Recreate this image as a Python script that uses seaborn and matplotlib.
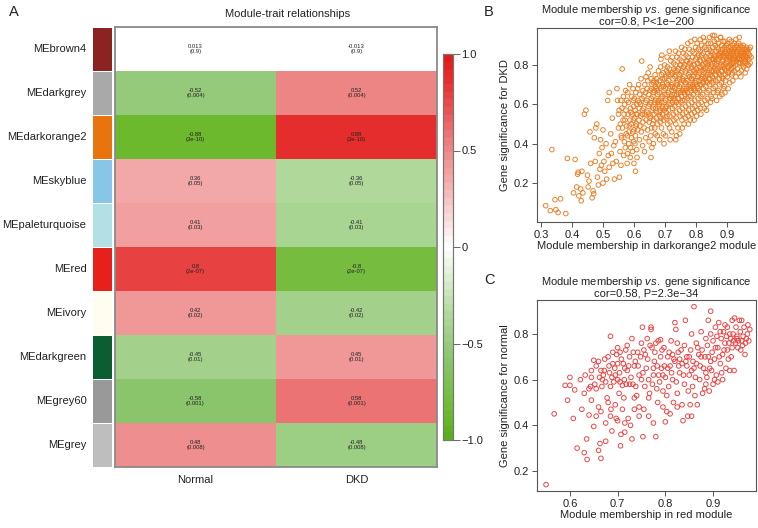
import numpy as np
import pandas as pd
import matplotlib
matplotlib.use("Agg")
import matplotlib.pyplot as plt
import seaborn as sns
from matplotlib.colors import LinearSegmentedColormap, ListedColormap

# ---------- data ----------
modules = ["MEbrown4", "MEdarkgrey", "MEdarkorange2", "MEskyblue", "MEpaleturquoise",
           "MEred", "MEivory", "MEdarkgreen", "MEgrey60", "MEgrey"]
module_colors = ["#8b2323", "#a9a9a9", "#e8740e", "#87c6e6", "#b2e0e4",
                 "#e8201c", "#fffdf0", "#0b5e32", "#999999", "#bebebe"]
traits = ["Normal", "DKD"]
cor_normal = [0.013, -0.52, -0.88, 0.36, 0.41, 0.8, 0.42, -0.45, -0.58, 0.48]
cor_dkd = [-0.013, 0.52, 0.88, -0.36, -0.41, -0.8, -0.42, 0.45, 0.58, -0.48]
pvals = ["0.9", "0.004", "3e-10", "0.05", "0.03", "2e-07", "0.02", "0.01", "0.001", "0.008"]

# panel B: module membership in darkorange2 vs gene significance for DKD
b_points = [
    (0.315, 0.085), (0.33, 0.06), (0.335, 0.37), (0.345, 0.115), (0.348, 0.065), (0.355, 0.05),
    (0.363, 0.12), (0.38, 0.045), (0.385, 0.325), (0.405, 0.15), (0.41, 0.32), (0.415, 0.18),
    (0.418, 0.245), (0.42, 0.255), (0.422, 0.135), (0.428, 0.17), (0.43, 0.11), (0.432, 0.26),
    (0.435, 0.15), (0.44, 0.55), (0.445, 0.57), (0.45, 0.24), (0.452, 0.18), (0.455, 0.21),
    (0.458, 0.46), (0.46, 0.30), (0.465, 0.125), (0.468, 0.16), (0.47, 0.145), (0.472, 0.43),
    (0.475, 0.31), (0.477, 0.48), (0.48, 0.50), (0.482, 0.23), (0.485, 0.19), (0.488, 0.35),
    (0.49, 0.27), (0.492, 0.42), (0.495, 0.29), (0.497, 0.38), (0.50, 0.47), (0.50, 0.20),
    (0.503, 0.31), (0.506, 0.26), (0.51, 0.40), (0.512, 0.22), (0.515, 0.62), (0.517, 0.34),
    (0.52, 0.66), (0.52, 0.28), (0.525, 0.45), (0.527, 0.35), (0.53, 0.53), (0.532, 0.30),
    (0.535, 0.39), (0.537, 0.22), (0.54, 0.41), (0.543, 0.31), (0.545, 0.68), (0.547, 0.62),
    (0.55, 0.48), (0.55, 0.55), (0.553, 0.23), (0.555, 0.36), (0.558, 0.29), (0.56, 0.43),
    (0.562, 0.78), (0.565, 0.52), (0.567, 0.34), (0.57, 0.60), (0.572, 0.38), (0.575, 0.45),
    (0.578, 0.30), (0.58, 0.66), (0.583, 0.40), (0.585, 0.49), (0.588, 0.33), (0.59, 0.56),
    (0.592, 0.43), (0.595, 0.36), (0.598, 0.62), (0.60, 0.47), (0.60, 0.30), (0.603, 0.40),
    (0.605, 0.26), (0.607, 0.55), (0.61, 0.33), (0.612, 0.68),
    (0.552, 0.57), (0.556, 0.50), (0.558, 0.62), (0.559, 0.44),
    (0.561, 0.58), (0.563, 0.48), (0.566, 0.64), (0.568, 0.55), (0.569, 0.41),
    (0.571, 0.52), (0.573, 0.67), (0.574, 0.57), (0.576, 0.49), (0.577, 0.62), (0.579, 0.44), (0.579, 0.35),
    (0.581, 0.55), (0.582, 0.61), (0.584, 0.46), (0.586, 0.70), (0.587, 0.52), (0.589, 0.58), (0.589, 0.38),
    (0.591, 0.50), (0.593, 0.64), (0.594, 0.55), (0.596, 0.46), (0.597, 0.68), (0.598, 0.52), (0.599, 0.41),
    (0.599, 0.59),
    (0.601, 0.63), (0.602, 0.53), (0.604, 0.57), (0.605, 0.44), (0.606, 0.66), (0.608, 0.50), (0.609, 0.60),
    (0.609, 0.37),
    (0.611, 0.55), (0.612, 0.47), (0.613, 0.62), (0.615, 0.70), (0.616, 0.52), (0.617, 0.58), (0.618, 0.42),
    (0.619, 0.65), (0.619, 0.49),
    (0.621, 0.60), (0.622, 0.54), (0.623, 0.73), (0.624, 0.46), (0.626, 0.63), (0.627, 0.57), (0.628, 0.39),
    (0.629, 0.67), (0.629, 0.51), (0.625, 0.82),
    (0.631, 0.58), (0.632, 0.64), (0.633, 0.48), (0.635, 0.70), (0.636, 0.55), (0.637, 0.61), (0.638, 0.43),
    (0.639, 0.74), (0.639, 0.52), (0.634, 0.36),
    (0.641, 0.62), (0.642, 0.56), (0.643, 0.68), (0.644, 0.47), (0.646, 0.76), (0.647, 0.59), (0.648, 0.65),
    (0.649, 0.51), (0.649, 0.41), (0.645, 0.72),
    (0.651, 0.60), (0.652, 0.67), (0.653, 0.54), (0.655, 0.73), (0.656, 0.63), (0.657, 0.48), (0.658, 0.70),
    (0.659, 0.57), (0.654, 0.44), (0.658, 0.38), (0.652, 0.79), (0.655, 0.33),
    (0.661, 0.64), (0.662, 0.58), (0.663, 0.71), (0.664, 0.52), (0.666, 0.67), (0.667, 0.61), (0.668, 0.75),
    (0.669, 0.45), (0.665, 0.55), (0.669, 0.69), (0.663, 0.40),
    (0.671, 0.62), (0.672, 0.68), (0.673, 0.56), (0.674, 0.73), (0.676, 0.50), (0.677, 0.65), (0.678, 0.59),
    (0.679, 0.77), (0.675, 0.44), (0.679, 0.70), (0.672, 0.53),
    (0.681, 0.66), (0.682, 0.60), (0.683, 0.72), (0.684, 0.54), (0.686, 0.79), (0.687, 0.63), (0.688, 0.69),
    (0.689, 0.48), (0.685, 0.57), (0.689, 0.75), (0.683, 0.42), (0.687, 0.83),
    (0.691, 0.64), (0.692, 0.70), (0.693, 0.58), (0.694, 0.76), (0.696, 0.52), (0.697, 0.67), (0.698, 0.61),
    (0.699, 0.73), (0.695, 0.45), (0.699, 0.80), (0.692, 0.55), (0.697, 0.40), (0.69, 0.85),
    (0.701, 0.68), (0.702, 0.62), (0.703, 0.74), (0.704, 0.56), (0.706, 0.71), (0.707, 0.65), (0.708, 0.79),
    (0.709, 0.50), (0.705, 0.59), (0.709, 0.76), (0.702, 0.44), (0.707, 0.84), (0.704, 0.53),
    (0.711, 0.66), (0.712, 0.72), (0.713, 0.60), (0.714, 0.78), (0.716, 0.54), (0.717, 0.69), (0.718, 0.63),
    (0.719, 0.75), (0.715, 0.48), (0.719, 0.82), (0.712, 0.57), (0.717, 0.42), (0.714, 0.87),
    (0.721, 0.70), (0.722, 0.64), (0.723, 0.76), (0.724, 0.58), (0.726, 0.73), (0.727, 0.67), (0.728, 0.81),
    (0.729, 0.52), (0.725, 0.61), (0.729, 0.78), (0.722, 0.46), (0.727, 0.55), (0.724, 0.84),
    (0.731, 0.68), (0.732, 0.74), (0.733, 0.62), (0.734, 0.80), (0.736, 0.56), (0.737, 0.71), (0.738, 0.65),
    (0.739, 0.77), (0.735, 0.50), (0.739, 0.84), (0.732, 0.59), (0.737, 0.44), (0.734, 0.87), (0.736, 0.53),
    (0.735, 0.42),
    (0.741, 0.72), (0.742, 0.66), (0.743, 0.78), (0.744, 0.60), (0.746, 0.75), (0.747, 0.69), (0.748, 0.83),
    (0.749, 0.54), (0.745, 0.63), (0.749, 0.80), (0.742, 0.48), (0.747, 0.57), (0.744, 0.86), (0.748, 0.45),
    (0.751, 0.70), (0.752, 0.76), (0.753, 0.64), (0.754, 0.82), (0.756, 0.58), (0.757, 0.73), (0.758, 0.67),
    (0.759, 0.79), (0.755, 0.52), (0.759, 0.86), (0.752, 0.61), (0.757, 0.55), (0.754, 0.89), (0.756, 0.48),
    (0.761, 0.74), (0.762, 0.68), (0.763, 0.80), (0.764, 0.62), (0.766, 0.77), (0.767, 0.71), (0.768, 0.85),
    (0.769, 0.56), (0.765, 0.65), (0.769, 0.82), (0.762, 0.50), (0.767, 0.59), (0.764, 0.88), (0.766, 0.53),
    (0.771, 0.72), (0.772, 0.78), (0.773, 0.66), (0.774, 0.84), (0.776, 0.60), (0.777, 0.75), (0.778, 0.69),
    (0.779, 0.81), (0.775, 0.54), (0.779, 0.88), (0.772, 0.63), (0.777, 0.57), (0.774, 0.91), (0.776, 0.50),
    (0.781, 0.76), (0.782, 0.70), (0.783, 0.82), (0.784, 0.64), (0.786, 0.79), (0.787, 0.73), (0.788, 0.87),
    (0.789, 0.58), (0.785, 0.67), (0.789, 0.84), (0.782, 0.52), (0.787, 0.61), (0.784, 0.92), (0.786, 0.55),
    (0.791, 0.74), (0.792, 0.80), (0.793, 0.68), (0.794, 0.86), (0.796, 0.62), (0.797, 0.77), (0.798, 0.71),
    (0.799, 0.83), (0.795, 0.56), (0.799, 0.89), (0.792, 0.65), (0.797, 0.59), (0.794, 0.52), (0.796, 0.93),
    (0.801, 0.78), (0.802, 0.72), (0.803, 0.84), (0.804, 0.66), (0.806, 0.81), (0.807, 0.75), (0.808, 0.88),
    (0.809, 0.60), (0.805, 0.69), (0.809, 0.85), (0.802, 0.54), (0.807, 0.63), (0.804, 0.91), (0.806, 0.57),
    (0.811, 0.76), (0.812, 0.82), (0.813, 0.70), (0.814, 0.87), (0.816, 0.64), (0.817, 0.79), (0.818, 0.73),
    (0.819, 0.85), (0.815, 0.58), (0.819, 0.90), (0.812, 0.67), (0.817, 0.61), (0.814, 0.93), (0.816, 0.55),
    (0.821, 0.80), (0.822, 0.74), (0.823, 0.86), (0.824, 0.68), (0.826, 0.83), (0.827, 0.77), (0.828, 0.89),
    (0.829, 0.62), (0.825, 0.71), (0.829, 0.92), (0.822, 0.65), (0.827, 0.58), (0.824, 0.94),
    (0.831, 0.78), (0.832, 0.84), (0.833, 0.72), (0.834, 0.88), (0.836, 0.66), (0.837, 0.81), (0.838, 0.75),
    (0.839, 0.86), (0.835, 0.60), (0.839, 0.91), (0.832, 0.69), (0.837, 0.63), (0.834, 0.57),
    (0.841, 0.82), (0.842, 0.76), (0.843, 0.88), (0.844, 0.70), (0.846, 0.85), (0.847, 0.79), (0.848, 0.91),
    (0.849, 0.64), (0.845, 0.73), (0.849, 0.87), (0.842, 0.67), (0.847, 0.61), (0.844, 0.94),
    (0.851, 0.80), (0.852, 0.86), (0.853, 0.74), (0.854, 0.89), (0.856, 0.68), (0.857, 0.83), (0.858, 0.77),
    (0.859, 0.92), (0.855, 0.71), (0.859, 0.85), (0.852, 0.63), (0.857, 0.66), (0.854, 0.95),
    (0.861, 0.84), (0.862, 0.78), (0.863, 0.90), (0.864, 0.72), (0.866, 0.87), (0.867, 0.81), (0.868, 0.93),
    (0.869, 0.66), (0.865, 0.75), (0.869, 0.89), (0.862, 0.69), (0.867, 0.62), (0.864, 0.83), (0.86, 0.95),
    (0.871, 0.82), (0.872, 0.88), (0.873, 0.76), (0.874, 0.91), (0.876, 0.70), (0.877, 0.85), (0.878, 0.79),
    (0.879, 0.94), (0.875, 0.73), (0.879, 0.87), (0.872, 0.67), (0.877, 0.64), (0.874, 0.83),
    (0.881, 0.86), (0.882, 0.80), (0.883, 0.90), (0.884, 0.74), (0.886, 0.88), (0.887, 0.83), (0.888, 0.92),
    (0.889, 0.68), (0.885, 0.77), (0.889, 0.85), (0.882, 0.71), (0.887, 0.79), (0.884, 0.65), (0.88, 0.94),
    (0.891, 0.84), (0.892, 0.89), (0.893, 0.78), (0.894, 0.92), (0.896, 0.72), (0.897, 0.86), (0.898, 0.81),
    (0.899, 0.90), (0.895, 0.75), (0.899, 0.83), (0.892, 0.69), (0.897, 0.88), (0.894, 0.66),
    (0.901, 0.86), (0.902, 0.82), (0.903, 0.91), (0.904, 0.76), (0.906, 0.89), (0.907, 0.84), (0.908, 0.93),
    (0.909, 0.71), (0.905, 0.79), (0.909, 0.87), (0.902, 0.74), (0.907, 0.80), (0.904, 0.68),
    (0.911, 0.85), (0.912, 0.89), (0.913, 0.80), (0.914, 0.92), (0.916, 0.75), (0.917, 0.87), (0.918, 0.83),
    (0.919, 0.90), (0.915, 0.78), (0.919, 0.72), (0.912, 0.86), (0.917, 0.81),
    (0.921, 0.87), (0.922, 0.83), (0.923, 0.91), (0.924, 0.77), (0.926, 0.89), (0.927, 0.85), (0.928, 0.80),
    (0.929, 0.74), (0.925, 0.88), (0.929, 0.93), (0.922, 0.79), (0.927, 0.84),
    (0.931, 0.86), (0.932, 0.82), (0.933, 0.89), (0.934, 0.78), (0.936, 0.88), (0.937, 0.84), (0.938, 0.91),
    (0.939, 0.76), (0.935, 0.85), (0.939, 0.81), (0.932, 0.87), (0.94, 0.94),
    (0.941, 0.85), (0.942, 0.88), (0.943, 0.81), (0.944, 0.90), (0.946, 0.77), (0.947, 0.86), (0.948, 0.83),
    (0.949, 0.89), (0.945, 0.74), (0.949, 0.80),
    (0.951, 0.87), (0.952, 0.84), (0.953, 0.90), (0.954, 0.79), (0.956, 0.86), (0.957, 0.82), (0.958, 0.88),
    (0.959, 0.76), (0.955, 0.85), (0.96, 0.83),
    (0.961, 0.85), (0.962, 0.81), (0.963, 0.89), (0.964, 0.78), (0.966, 0.87), (0.967, 0.84), (0.968, 0.80),
    (0.969, 0.86), (0.965, 0.88),
    (0.971, 0.83), (0.972, 0.88), (0.973, 0.85), (0.975, 0.81), (0.976, 0.89), (0.978, 0.84), (0.97, 0.80),
    # core of the cloud, second pass
    (0.655, 0.61), (0.665, 0.72), (0.675, 0.67), (0.685, 0.51), (0.695, 0.69), (0.705, 0.77), (0.715, 0.63),
    (0.725, 0.69), (0.735, 0.75), (0.745, 0.67), (0.755, 0.77), (0.765, 0.71), (0.775, 0.79), (0.785, 0.73),
    (0.795, 0.80), (0.805, 0.74), (0.815, 0.82), (0.825, 0.78), (0.835, 0.83), (0.845, 0.78), (0.855, 0.83),
    (0.865, 0.80), (0.875, 0.86), (0.885, 0.82), (0.895, 0.87), (0.905, 0.84), (0.915, 0.88), (0.925, 0.82),
    (0.935, 0.83), (0.945, 0.87), (0.955, 0.83),
    (0.66, 0.50), (0.67, 0.58), (0.68, 0.62), (0.69, 0.61), (0.70, 0.65), (0.71, 0.70), (0.72, 0.60),
    (0.73, 0.65), (0.74, 0.70), (0.75, 0.66), (0.76, 0.72), (0.77, 0.68), (0.78, 0.74), (0.79, 0.70),
    (0.80, 0.76), (0.81, 0.72), (0.82, 0.77), (0.83, 0.74), (0.84, 0.80), (0.85, 0.77), (0.86, 0.81),
    (0.87, 0.78), (0.88, 0.84), (0.89, 0.80), (0.90, 0.85), (0.91, 0.83), (0.92, 0.86), (0.93, 0.85),
    (0.94, 0.83), (0.95, 0.86), (0.96, 0.84),
    (0.652, 0.53), (0.662, 0.66), (0.672, 0.71), (0.682, 0.56), (0.692, 0.73), (0.702, 0.58), (0.712, 0.75),
    (0.722, 0.67), (0.732, 0.77), (0.742, 0.63), (0.752, 0.80), (0.762, 0.66), (0.772, 0.82), (0.782, 0.68),
    (0.792, 0.77), (0.802, 0.70), (0.812, 0.79), (0.822, 0.71), (0.832, 0.81), (0.842, 0.73), (0.852, 0.83),
    (0.862, 0.75), (0.872, 0.85), (0.882, 0.77), (0.892, 0.86), (0.902, 0.79), (0.912, 0.84), (0.922, 0.81),
    (0.932, 0.90), (0.942, 0.83), (0.952, 0.81), (0.962, 0.87),
    (0.607, 0.49), (0.617, 0.61), (0.627, 0.55), (0.637, 0.66), (0.647, 0.55), (0.657, 0.68), (0.667, 0.48),
    (0.677, 0.61), (0.687, 0.53), (0.697, 0.57), (0.707, 0.54), (0.717, 0.51), (0.727, 0.63), (0.737, 0.61),
    (0.747, 0.73), (0.757, 0.62), (0.767, 0.67), (0.777, 0.64), (0.787, 0.69), (0.797, 0.67), (0.807, 0.68),
    (0.817, 0.70), (0.827, 0.73), (0.837, 0.71), (0.847, 0.75), (0.857, 0.72), (0.867, 0.77), (0.877, 0.75),
    (0.887, 0.73), (0.897, 0.77), (0.907, 0.77), (0.917, 0.76),
]

# panel C: module membership in red vs gene significance for normal
c_points = [
    (0.55, 0.14), (0.567, 0.45), (0.59, 0.575), (0.595, 0.51), (0.60, 0.61), (0.60, 0.575), (0.607, 0.43),
    (0.61, 0.555), (0.615, 0.30), (0.622, 0.60), (0.625, 0.47), (0.63, 0.28), (0.63, 0.54), (0.632, 0.62),
    (0.635, 0.34), (0.636, 0.25), (0.64, 0.445), (0.64, 0.56), (0.643, 0.57), (0.645, 0.64), (0.645, 0.51),
    (0.65, 0.395), (0.65, 0.685), (0.652, 0.58), (0.655, 0.44), (0.66, 0.68), (0.66, 0.29), (0.66, 0.48),
    (0.662, 0.61), (0.663, 0.32), (0.665, 0.255), (0.665, 0.46), (0.667, 0.57), (0.67, 0.62), (0.672, 0.64),
    (0.675, 0.41), (0.675, 0.33), (0.678, 0.52), (0.68, 0.70), (0.68, 0.50), (0.682, 0.66), (0.685, 0.79),
    (0.685, 0.44), (0.686, 0.47), (0.688, 0.375), (0.69, 0.67), (0.69, 0.72), (0.692, 0.59), (0.695, 0.49),
    (0.697, 0.43), (0.70, 0.60), (0.70, 0.67), (0.70, 0.74), (0.70, 0.42), (0.703, 0.54), (0.705, 0.72),
    (0.706, 0.31), (0.707, 0.36), (0.71, 0.47), (0.71, 0.575), (0.712, 0.67), (0.713, 0.52), (0.715, 0.37),
    (0.715, 0.41), (0.718, 0.58), (0.72, 0.75), (0.72, 0.64), (0.722, 0.43), (0.725, 0.70), (0.727, 0.40),
    (0.73, 0.34), (0.73, 0.78), (0.732, 0.58), (0.735, 0.47), (0.737, 0.68), (0.74, 0.53), (0.742, 0.72),
    (0.745, 0.44), (0.745, 0.48), (0.75, 0.76), (0.75, 0.60), (0.752, 0.83), (0.753, 0.35), (0.755, 0.47),
    (0.758, 0.71), (0.76, 0.65), (0.762, 0.78), (0.765, 0.44), (0.767, 0.54), (0.77, 0.82), (0.77, 0.83),
    (0.772, 0.74), (0.775, 0.62), (0.775, 0.41), (0.777, 0.68), (0.78, 0.76), (0.78, 0.35), (0.782, 0.56),
    (0.784, 0.50), (0.786, 0.62), (0.79, 0.70), (0.79, 0.775), (0.792, 0.65), (0.795, 0.55), (0.797, 0.74),
    (0.80, 0.61), (0.80, 0.415), (0.803, 0.46), (0.805, 0.70), (0.807, 0.57), (0.81, 0.45), (0.81, 0.66),
    (0.812, 0.77), (0.815, 0.60), (0.817, 0.50), (0.82, 0.85), (0.82, 0.68), (0.822, 0.82), (0.825, 0.54),
    (0.827, 0.72), (0.83, 0.63), (0.83, 0.69), (0.835, 0.49), (0.837, 0.42), (0.84, 0.75), (0.84, 0.58),
    (0.842, 0.86), (0.845, 0.66), (0.847, 0.44), (0.85, 0.70), (0.85, 0.62), (0.852, 0.49), (0.855, 0.80),
    (0.857, 0.57), (0.86, 0.92), (0.86, 0.65), (0.862, 0.53), (0.865, 0.76), (0.867, 0.49), (0.87, 0.71),
    (0.872, 0.60), (0.875, 0.81), (0.877, 0.73), (0.88, 0.65), (0.882, 0.56), (0.885, 0.78), (0.887, 0.61),
    (0.89, 0.86), (0.89, 0.70), (0.892, 0.55), (0.895, 0.90), (0.895, 0.80), (0.897, 0.64), (0.90, 0.77),
    (0.90, 0.58), (0.903, 0.69), (0.905, 0.83), (0.907, 0.62), (0.91, 0.74), (0.912, 0.85), (0.915, 0.67),
    (0.917, 0.78), (0.92, 0.60), (0.92, 0.71), (0.922, 0.81), (0.925, 0.76), (0.927, 0.65), (0.93, 0.83),
    (0.93, 0.73), (0.932, 0.69), (0.935, 0.64), (0.937, 0.78), (0.94, 0.86), (0.94, 0.74), (0.942, 0.80),
    (0.945, 0.87), (0.947, 0.76), (0.95, 0.79), (0.952, 0.74), (0.955, 0.86), (0.957, 0.81), (0.96, 0.77),
    (0.962, 0.75), (0.965, 0.83), (0.967, 0.71), (0.97, 0.78), (0.972, 0.80), (0.975, 0.77), (0.977, 0.82),
    (0.655, 0.66), (0.668, 0.60), (0.673, 0.69), (0.683, 0.63), (0.688, 0.61), (0.694, 0.65), (0.698, 0.71),
    (0.704, 0.63), (0.708, 0.69), (0.714, 0.60), (0.717, 0.73), (0.723, 0.66), (0.728, 0.61), (0.733, 0.72),
    (0.738, 0.57), (0.743, 0.66), (0.748, 0.70), (0.753, 0.63), (0.757, 0.57), (0.763, 0.69), (0.768, 0.75),
    (0.773, 0.58), (0.778, 0.72), (0.783, 0.66), (0.788, 0.59), (0.793, 0.73), (0.798, 0.66), (0.803, 0.53),
    (0.808, 0.72), (0.813, 0.63), (0.818, 0.69), (0.823, 0.59), (0.828, 0.66), (0.833, 0.73), (0.838, 0.62),
    (0.843, 0.68), (0.848, 0.55), (0.853, 0.73), (0.858, 0.68), (0.863, 0.61), (0.868, 0.74), (0.873, 0.66),
    (0.878, 0.54), (0.883, 0.70), (0.888, 0.75), (0.893, 0.65), (0.898, 0.72), (0.903, 0.60), (0.908, 0.79),
    (0.913, 0.70), (0.918, 0.63), (0.923, 0.73), (0.928, 0.79), (0.933, 0.76), (0.938, 0.70), (0.943, 0.77),
    (0.948, 0.83), (0.953, 0.77), (0.958, 0.73), (0.963, 0.79), (0.968, 0.76), (0.973, 0.84), (0.944, 0.64),
    (0.96, 0.86), (0.95, 0.78), (0.935, 0.80), (0.925, 0.84), (0.915, 0.81), (0.905, 0.74), (0.895, 0.68),
    (0.885, 0.63), (0.875, 0.70), (0.865, 0.67), (0.855, 0.64), (0.845, 0.70), (0.835, 0.67), (0.825, 0.76),
    (0.815, 0.71), (0.805, 0.65), (0.795, 0.62), (0.785, 0.77), (0.775, 0.65), (0.765, 0.60), (0.755, 0.73),
    (0.745, 0.62), (0.735, 0.66), (0.725, 0.58), (0.715, 0.65), (0.705, 0.59), (0.695, 0.62), (0.685, 0.57),
    (0.675, 0.59), (0.665, 0.64), (0.655, 0.56), (0.645, 0.61), (0.735, 0.52), (0.765, 0.52), (0.795, 0.48),
    (0.825, 0.48), (0.855, 0.44), (0.885, 0.58), (0.91, 0.59),
]

# ---------- style ----------
sns.set_style("white")
plt.rcParams["font.family"] = ["Liberation Sans", "DejaVu Sans"]
plt.rcParams["mathtext.fontset"] = "custom"
plt.rcParams["mathtext.rm"] = "Liberation Sans"
plt.rcParams["mathtext.it"] = "Liberation Sans:italic"
TXT = "#222222"
FS = 8.0

W, H = 758, 528
fig = plt.figure(figsize=(W / 100, H / 100), dpi=100)


def px(l, t, r, b):
    # pixel box -> figure fraction
    return [l / W, 1 - b / H, (r - l) / W, (b - t) / H]


# ============================================
# A. module-trait heatmap
# ============================================
cor_df = pd.DataFrame({"Normal": cor_normal, "DKD": cor_dkd}, index=modules)
annot = np.array([[f"{c}\n({p})" for c in row] for row, p in
                  zip(cor_df.values.tolist(), pvals)])

# green - white - red, slightly stronger than linear in the middle (as in WGCNA plots)
gwr = LinearSegmentedColormap.from_list("gwr", [
    (0.00, "#5aad1c"), (0.06, "#6db92e"), (0.21, "#8cc56f"), (0.32, "#b0d89b"),
    (0.50, "#ffffff"),
    (0.68, "#f2a8a8"), (0.79, "#ec7878"), (0.94, "#e62d2d"), (1.00, "#e21a1c")], N=51)

ax_hm = fig.add_axes(px(115, 27, 437, 467))
ax_cb = fig.add_axes(px(443, 54, 453, 440))
sns.heatmap(cor_df, ax=ax_hm, cmap=gwr, vmin=-1, vmax=1, annot=annot, fmt="",
            annot_kws={"fontsize": 4.2, "color": TXT, "linespacing": 1.1},
            cbar_ax=ax_cb, cbar_kws={"ticks": [-1, -0.5, 0, 0.5, 1]})
ax_hm.set_yticks([])
ax_hm.set_ylabel("")
ax_hm.tick_params(axis="x", length=0, pad=6, labelsize=FS, labelcolor=TXT)
for sp in ax_hm.spines.values():
    sp.set_visible(True)
    sp.set_color("#8a8a8a")
    sp.set_linewidth(1.3)

ax_cb.set_yticklabels(["\u22121.0", "\u22120.5", "0", "0.5", "1.0"])
ax_cb.tick_params(length=5, width=0.7, color="#666666", labelsize=FS, labelcolor=TXT, pad=1)
for sp in ax_cb.spines.values():
    sp.set_visible(True)
    sp.set_color("#777777")
    sp.set_linewidth(0.8)

# module colour strip
ax_strip = fig.add_axes(px(92, 27, 112, 467))
strip_df = pd.DataFrame({"c": np.arange(len(modules))}, index=modules)
sns.heatmap(strip_df, ax=ax_strip, cmap=ListedColormap(module_colors), cbar=False,
            linewidths=0.4, linecolor="white")
ax_strip.set_xticks([])
ax_strip.set_ylabel("")
ax_strip.set_yticklabels(modules, rotation=0)
ax_strip.tick_params(axis="y", length=0, pad=4, labelsize=FS, labelcolor=TXT)

fig.text(288 / W, 1 - 14 / H, "Module-trait relationships", ha="center", va="center",
         fontsize=FS, color=TXT)


# ============================================
# B & C. scatter plots
# ============================================
def style_scatter(ax):
    for sp in ax.spines.values():
        sp.set_visible(True)
        sp.set_color("#555555")
        sp.set_linewidth(0.8)
    ax.tick_params(direction="out", length=3.5, width=0.7, color="#555555",
                   labelsize=FS, labelcolor=TXT, pad=2, left=True, bottom=True)
    ax.grid(False)


b_df = pd.DataFrame(b_points, columns=["mm", "gs"])
ax_b = fig.add_axes(px(537, 28, 756, 222))
sns.scatterplot(data=b_df, x="mm", y="gs", ax=ax_b, s=11, marker="o", color="#ec7a1e",
                facecolors="none", edgecolor="#ec7a1e", linewidth=0.65, legend=False)
ax_b.set_xlim(0.287, 0.994)
ax_b.set_ylim(0.002, 0.988)
ax_b.set_xticks([0.3, 0.4, 0.5, 0.6, 0.7, 0.8, 0.9])
ax_b.set_yticks([0.2, 0.4, 0.6, 0.8])
style_scatter(ax_b)
ax_b.set_xlabel("Module membership in darkorange2 module", fontsize=FS, color=TXT, labelpad=1)
ax_b.set_ylabel("Gene significance for DKD", fontsize=FS, color=TXT, labelpad=3)
ax_b.set_title("Module membership $\\it{vs.}$ gene significance\ncor=0.8, P<1e\u2212200",
               fontsize=FS, color=TXT, pad=2.5, linespacing=1.0)

c_df = pd.DataFrame(c_points, columns=["mm", "gs"])
ax_c = fig.add_axes(px(537, 300, 756, 491))
sns.scatterplot(data=c_df, x="mm", y="gs", ax=ax_c, s=11, marker="o", color="#f03a3a",
                facecolors="none", edgecolor="#f03a3a", linewidth=0.65, legend=False)
ax_c.set_xlim(0.531, 0.99)
ax_c.set_ylim(0.112, 0.949)
ax_c.set_xticks([0.6, 0.7, 0.8, 0.9])
ax_c.set_yticks([0.2, 0.4, 0.6, 0.8])
style_scatter(ax_c)
ax_c.set_xlabel("Module membership in red module", fontsize=FS, color=TXT, labelpad=1)
ax_c.set_ylabel("Gene significance for normal", fontsize=FS, color=TXT, labelpad=3)
ax_c.set_title("Module membership $\\it{vs.}$ gene significance\ncor=0.58, P=2.3e\u221234",
               fontsize=FS, color=TXT, pad=2.5, linespacing=1.0)

# panel letters
for lab, x, y in [("A", 14, 12), ("B", 489, 12), ("C", 489, 280)]:
    fig.text(x / W, 1 - y / H, lab, ha="center", va="center", fontsize=10.5, color=TXT)

fig.savefig("out.png", dpi=100)
